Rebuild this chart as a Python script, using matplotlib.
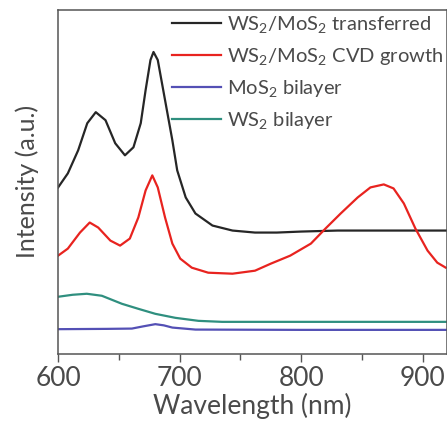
import matplotlib
matplotlib.use("Agg")
import matplotlib.pyplot as plt
from matplotlib.ticker import MultipleLocator, NullLocator

plt.rcParams['font.family'] = ['Lato', 'DejaVu Sans']
plt.rcParams['mathtext.fontset'] = 'custom'
plt.rcParams['mathtext.rm'] = 'Lato'
plt.rcParams['mathtext.it'] = 'Lato:italic'

# Data (intensity in arbitrary units)
wl_black = [600, 608, 616.5, 624, 631, 639, 647, 655, 662, 668, 672, 676, 678.5, 682, 688, 694,
            698, 705, 713, 727, 743.5, 762, 780, 800, 830, 870, 920]
int_black = [166, 180, 203, 230, 241, 233, 210, 198, 206, 230, 263, 293, 301, 293, 253, 213,
             183, 156, 140, 128, 123, 121, 121, 122, 123, 123, 123]

wl_red = [600, 608, 618, 626, 633, 643, 651, 659, 666, 672, 677.5, 682, 688, 694, 700.5, 710,
          723.5, 743.5, 762, 775, 791, 808, 820, 832.5, 846.5, 857, 868, 876, 884.5, 894, 904,
          912, 919]
int_red = [98, 105, 121, 131, 126, 113, 108, 115, 136, 163, 178, 166, 136, 110, 95, 86,
           81, 80, 83, 90, 98, 110, 125, 140, 156, 166, 169, 165, 150, 125, 103,
           91, 86]

wl_mos2 = [600, 640, 660.7, 670, 680, 687, 694, 713, 800, 920]
int_mos2 = [24.7, 25, 25.3, 27.5, 29.7, 28.5, 26.3, 24.3, 24, 24]

wl_ws2 = [600, 612, 623.6, 636, 652.5, 666, 680, 696.5, 715.5, 735, 800, 920]
int_ws2 = [57, 59, 60, 58, 50, 45, 40, 36, 33, 32, 32, 32]

labels = ['WS$_2$/MoS$_2$ transferred', 'WS$_2$/MoS$_2$ CVD growth',
          'MoS$_2$ bilayer', 'WS$_2$ bilayer']
colors = ['#262626', '#e8231f', '#5450b5', '#2f8f7f']

fig = plt.figure(figsize=(4.47, 4.28), dpi=100)
ax = fig.add_axes([0.130, 0.173, 0.870, 0.804])

ax.plot(wl_black, int_black, color=colors[0], lw=1.6, label=labels[0])
ax.plot(wl_red, int_red, color=colors[1], lw=1.6, label=labels[1])
ax.plot(wl_mos2, int_mos2, color=colors[2], lw=1.6, label=labels[2])
ax.plot(wl_ws2, int_ws2, color=colors[3], lw=1.6, label=labels[3])

ax.set_xlim(600, 920)
ax.set_ylim(0, 343)
ax.xaxis.set_major_locator(MultipleLocator(100))
ax.xaxis.set_minor_locator(MultipleLocator(50))
ax.yaxis.set_major_locator(NullLocator())
ax.tick_params(axis='x', which='major', direction='out', length=6, width=1, colors='#555555',
               labelsize=19, labelcolor='#4a4a4a', pad=3, top=False)
ax.tick_params(axis='x', which='minor', direction='out', length=4, width=1, colors='#555555', top=False)
for s in ax.spines.values():
    s.set_color('#555555')
    s.set_linewidth(1.1)

ax.set_xlabel('Wavelength (nm)', fontsize=19, color='#4a4a4a', labelpad=1)
ax.set_ylabel('Intensity (a.u.)', fontsize=18, color='#4a4a4a', labelpad=14)

leg = ax.legend(loc='upper right', frameon=False, fontsize=14.5, handlelength=2.4,
                handletextpad=0.3, labelspacing=0.55, borderaxespad=0.0,
                borderpad=0.2, bbox_to_anchor=(1.0, 1.0))
for t in leg.get_texts():
    t.set_color('#4a4a4a')

fig.savefig('out.png', dpi=100)
